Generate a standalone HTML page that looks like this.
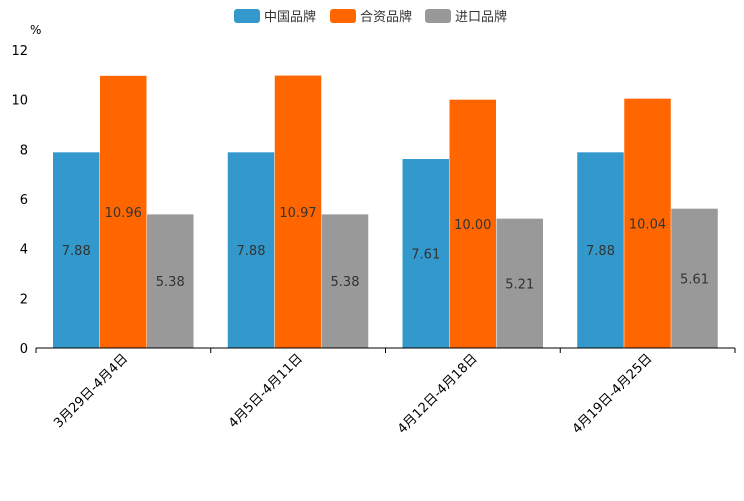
<!DOCTYPE html>
<html><head><meta charset="utf-8"><style>
body{margin:0;background:#fff;}
svg{font-family:"DejaVu Sans","Noto Sans CJK SC",sans-serif;}
</style></head><body>
<svg id="chart" width="744" height="496">
<g>
<g><rect x="234" y="9" width="26" height="14" rx="3" fill="#3399cc"/><text x="264" y="21" font-size="13" fill="#333">中国品牌</text></g>
<g><rect x="330" y="9" width="26" height="14" rx="3" fill="#ff6600"/><text x="360" y="21" font-size="13" fill="#333">合资品牌</text></g>
<g><rect x="425" y="9" width="26" height="14" rx="3" fill="#999999"/><text x="455" y="21" font-size="13" fill="#333">进口品牌</text></g>
</g>
<text x="30" y="34" font-size="12" fill="#000">%</text>
<g id="plot"></g>
</svg>
<script>
const categories=["3月29日-4月4日","4月5日-4月11日","4月12日-4月18日","4月19日-4月25日"];
const chinaValues=[7.88,7.88,7.61,7.88];
const jointValues=[10.96,10.97,10.00,10.04];
const importValues=[5.38,5.38,5.21,5.61];
const yTicks=[0,2,4,6,8,10,12];
const NS="http://www.w3.org/2000/svg";
const g=document.getElementById('plot');
const x0=36,x1=735,yBase=348,yTop=50,yMax=12;
const y=v=>yBase-(v/yMax)*(yBase-yTop);
const band=(x1-x0)/categories.length;
function el(t,a){const e=document.createElementNS(NS,t);for(const k in a)e.setAttribute(k,a[k]);g.appendChild(e);return e;}
yTicks.forEach(t=>{
 const tx=el('text',{x:28,y:y(t)+5,'text-anchor':'end','font-size':13,fill:'#000'});tx.textContent=t;
 
 
});
const series=[[chinaValues,'#3399cc','china'],[jointValues,'#ff6600','joint'],[importValues,'#999999','import']];
const bw=46.5,pad=17;
categories.forEach((c,i)=>{
 const gx=x0+i*band+pad;
 series.forEach((s,j)=>{
  const v=s[0][i],bx=gx+j*(bw+0.5);
  const r=el('rect',{x:bx,y:y(v),width:bw,height:yBase-y(v),fill:s[1]});
  
  
  const t=el('text',{x:bx+bw/2,y:(y(v)+yBase)/2+5,'text-anchor':'middle','font-size':13,fill:'#333'});
  t.textContent=v.toFixed(2);
  
  
 });
 const cx=x0+(i+0.5)*band+5;
 const lt=el('text',{x:cx,y:yBase+11,'text-anchor':'end','font-size':13,fill:'#000',transform:`rotate(-45 ${cx} ${yBase+11})`});
 lt.textContent=c;
 
 
});
const ax=el('line',{x1:x0,x2:x1,y1:yBase,y2:yBase,stroke:'#000','stroke-width':1});


for(let i=0;i<=categories.length;i++){
 const tk=el('line',{x1:x0+i*band,x2:x0+i*band,y1:yBase,y2:yBase+5,stroke:'#000'});
 
 
}
</script>
</body></html>
